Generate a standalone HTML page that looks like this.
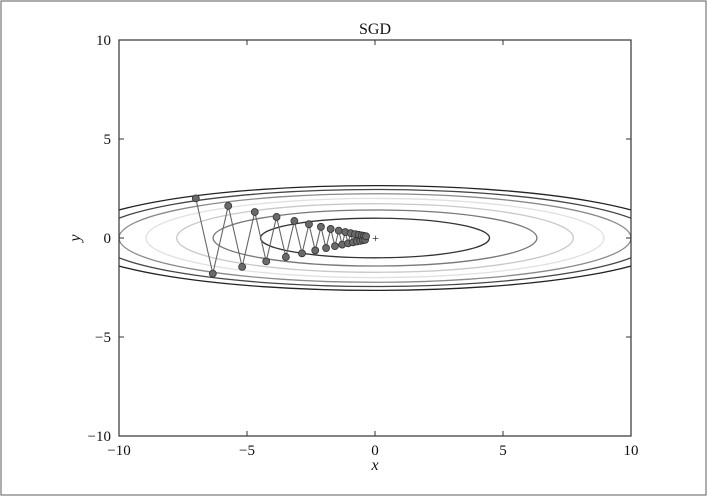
<!DOCTYPE html>
<html><head><meta charset="utf-8"><style>
body{margin:0;background:#fff;}
svg text{font-family:"Liberation Serif",serif;fill:#111;}
</style></head><body>
<svg id="c" width="708" height="497" xmlns="http://www.w3.org/2000/svg">
<rect x="1" y="1" width="705" height="494" fill="#fff" stroke="#777" stroke-width="1.2"/>
<g id="plot"></g>
</svg>
<script>
const xs=[-7,-6.335,-5.733,-5.189,-4.696,-4.250,-3.846,-3.481,-3.150,-2.851,-2.580,-2.335,-2.113,-1.912,-1.731,-1.566,-1.417,-1.283,-1.161,-1.051,-0.951,-0.860,-0.779,-0.705,-0.638,-0.577,-0.522,-0.473,-0.428,-0.387,-0.350];
const ys=[2,-1.8,1.62,-1.458,1.312,-1.181,1.063,-0.957,0.861,-0.775,0.697,-0.628,0.565,-0.508,0.458,-0.412,0.371,-0.334,0.300,-0.270,0.243,-0.219,0.197,-0.177,0.160,-0.144,0.129,-0.116,0.105,-0.094,0.085];
const levels=[1,2,3,4,5,6,7];
const levelColors=['#333','#777','#c8c8c8','#e0e0e0','#8a8a8a','#444','#222'];
const xTicks=[-10,-5,0,5,10];
const yTicks=[-10,-5,0,5,10];
const xTickLabels=['\u221210','\u22125','0','5','10'];
const yTickLabels=['\u221210','\u22125','0','5','10'];
const L=119,R=631,T=40,B=436;
const sx=v=>L+(v+10)/20*(R-L);
const sy=v=>B-(v+10)/20*(B-T);
const NS='http://www.w3.org/2000/svg';
const g=document.getElementById('plot');
function mk(t,a){const e=document.createElementNS(NS,t);for(const k in a)e.setAttribute(k,a[k]);g.appendChild(e);return e;}
const cp=mk('clipPath',{id:'clip'});
g.removeChild(cp);
const cr=document.createElementNS(NS,'rect');cr.setAttribute('x',L);cr.setAttribute('y',T);cr.setAttribute('width',R-L);cr.setAttribute('height',B-T);cp.appendChild(cr);
document.getElementById('c').appendChild(cp);
levels.forEach((c,i)=>{
  const a=Math.sqrt(20*c),b=Math.sqrt(c);
  const e=mk('ellipse',{cx:sx(0),cy:sy(0),rx:sx(a)-sx(0),ry:sy(0)-sy(b),fill:'none',stroke:levelColors[i],'stroke-width':1.3,'clip-path':'url(#clip)'});
  
  
});
const pl=mk('polyline',{points:xs.map((x,i)=>sx(x)+','+sy(ys[i])).join(' '),fill:'none',stroke:'#666','stroke-width':1.1});


xs.forEach((x,i)=>{
  const p=mk('circle',{cx:sx(x),cy:sy(ys[i]),r:3.5,fill:'#6a6a6a',stroke:'#333','stroke-width':0.8});
  
  
});
const plus=mk('text',{x:sx(0)+0.5,y:sy(0)+4,'font-size':12,'text-anchor':'middle',fill:'#666'});
plus.textContent='+';


const ax=mk('rect',{x:L,y:T,width:R-L,height:B-T,fill:'none',stroke:'#333','stroke-width':1.2});


xTicks.forEach((v,i)=>{
  const x=sx(v);
  const t1=mk('line',{x1:x,y1:B,x2:x,y2:B-5,stroke:'#333'});
  
  
  const t2=mk('line',{x1:x,y1:T,x2:x,y2:T+5,stroke:'#333'});
  
  
  const tl=mk('text',{x:x,y:B+19,'font-size':15,'text-anchor':'middle'});
  tl.textContent=xTickLabels[i];
  
  
});
yTicks.forEach((v,i)=>{
  const y=sy(v);
  const t1=mk('line',{x1:L,y1:y,x2:L+5,y2:y,stroke:'#333'});
  
  
  const t2=mk('line',{x1:R,y1:y,x2:R-5,y2:y,stroke:'#333'});
  
  
  const tl=mk('text',{x:L-8,y:y+5,'font-size':15,'text-anchor':'end'});
  tl.textContent=yTickLabels[i];
  
  
});
const ti=mk('text',{x:(L+R)/2,y:T-6,'font-size':16,'text-anchor':'middle'});
ti.textContent='SGD';


const xl=mk('text',{x:(L+R)/2,y:B+34,'font-size':16,'text-anchor':'middle','font-style':'italic'});
xl.textContent='x';


const yl=mk('text',{x:80,y:sy(0),'font-size':16,'text-anchor':'middle','font-style':'italic',transform:'rotate(-90 80 '+sy(0)+')'});
yl.textContent='y';


</script>
</body></html>
